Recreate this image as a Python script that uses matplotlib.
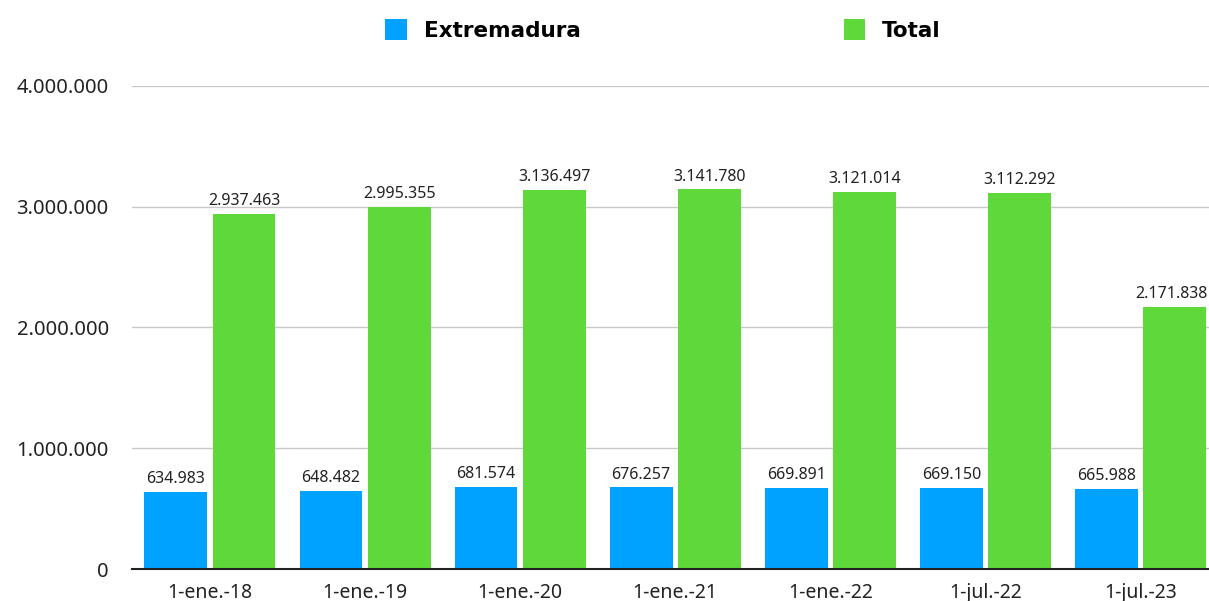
import numpy as np
import matplotlib
matplotlib.use("Agg")
import matplotlib.pyplot as plt
from matplotlib.ticker import FuncFormatter

# Data
categories = ["1-ene.-18", "1-ene.-19", "1-ene.-20", "1-ene.-21",
              "1-ene.-22", "1-jul.-22", "1-jul.-23"]
extremadura = [634983, 648482, 681574, 676257, 669891, 669150, 665988]
total = [2937463, 2995355, 3136497, 3141780, 3121014, 3112292, 2171838]
series_names = ["Extremadura", "Total"]

blue = "#00A2FF"
green = "#5FD93A"

plt.rcParams['font.family'] = ['Noto Sans', 'DejaVu Sans']


def fmt_es(v):
    return f"{int(round(v)):,}".replace(",", ".")


fig = plt.figure(figsize=(12.09, 6.01), dpi=100)
# axes runs a bit past the right edge, like the original
ax = fig.add_axes([0.1095, 0.0532, 0.898, 0.804])

x = np.arange(len(categories))
w = 0.405
off = 0.22
b1 = ax.bar(x - off, extremadura, w, color=blue, label=series_names[0], zorder=3)
b2 = ax.bar(x + off, total, w, color=green, label=series_names[1], zorder=3)

labels = []
for bars, vals in ((b1, extremadura), (b2, total)):
    for r, v in zip(bars, vals):
        t = ax.text(r.get_x() + r.get_width() / 2, v + 40000, fmt_es(v),
                    ha="center", va="bottom", fontsize=11.5, color="#222222")
        labels.append(t)

ax.set_xlim(-0.5, len(categories) - 0.5)
ax.set_ylim(0, 4000000)
ax.set_yticks([0, 1000000, 2000000, 3000000, 4000000])
ax.yaxis.set_major_formatter(FuncFormatter(lambda v, p: fmt_es(v)))
ax.set_xticks(x)
ax.set_xticklabels(categories)
ax.tick_params(axis="y", length=0, pad=17, labelsize=14.5, labelcolor="#222222")
ax.tick_params(axis="x", length=0, pad=10, labelsize=14, labelcolor="#222222")

ax.grid(axis="y", color="#c8c8c8", linewidth=1, zorder=0)
for s in ("top", "right", "left"):
    ax.spines[s].set_visible(False)
ax.spines["bottom"].set_color("#222222")
ax.spines["bottom"].set_linewidth(1.5)
ax.spines["bottom"].set_zorder(4)

leg = fig.legend(loc="upper center", bbox_to_anchor=(0.5485, 1.0), ncol=2,
                 frameon=False, handlelength=1.0, handleheight=1.1,
                 handletextpad=0.8, columnspacing=12.2,
                 prop={"family": "DejaVu Sans", "size": 15.5, "weight": "bold"})

# keep data labels inside the figure
fig.canvas.draw()
renderer = fig.canvas.get_renderer()
fig_w = fig.bbox.width
for t in labels:
    bb = t.get_window_extent(renderer)
    if bb.x1 > fig_w - 1:
        t.set_ha("right")
        xd, yd = ax.transData.transform(t.get_position())
        xr = ax.transData.inverted().transform((fig_w - 1, yd))[0]
        t.set_x(xr)

fig.savefig("out.png", dpi=100)
